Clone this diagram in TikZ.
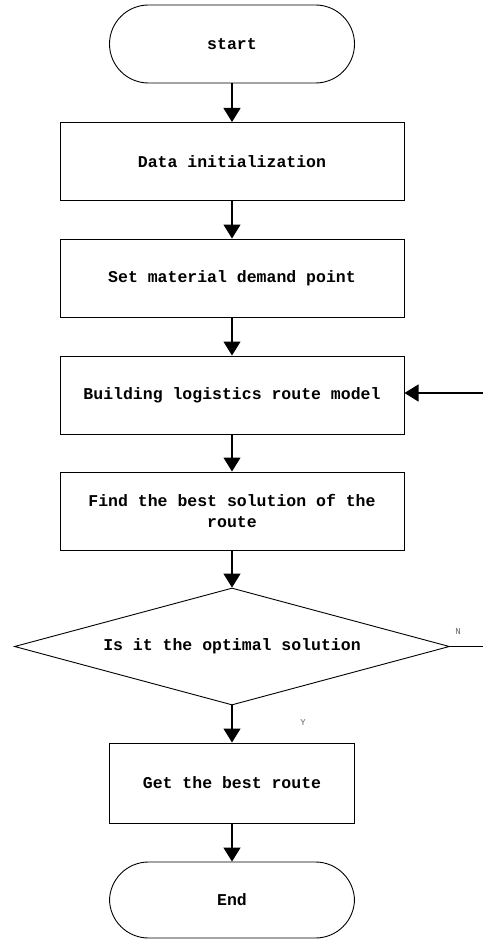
\documentclass[tikz,border=0pt]{standalone}
\usepackage{fontspec}
\setmonofont{Liberation Mono}
\usetikzlibrary{arrows.meta,shapes.geometric}

\begin{document}
\begin{tikzpicture}[x=1pt, y=-1pt,
        txt/.style={font=\ttfamily\bfseries\fontsize{16.5}{21}\selectfont},
        box/.style={txt, draw, line width=1pt, minimum width=344pt, minimum height=78pt, inner sep=0, align=center},
        term/.style={txt, draw, line width=0.9pt, rounded corners=39pt, minimum width=245pt, minimum height=78pt},
        decide/.style={txt, diamond, draw, line width=0.9pt, aspect=3.7, inner sep=0, minimum width=435pt, minimum height=117pt},
        lbl/.style={font=\ttfamily\fontsize{9}{9}\selectfont, text=black!60},
        flow/.style={line width=1.2pt, -{Triangle[width=17pt,length=14pt]}}]
    \useasboundingbox (0,0) rectangle (483,939);
    \node[term] (start) at (232,44) {start};
    \node[box] (init) at (232,161.5) {Data initialization};
    \node[box] (demand) at (232,278) {Set material demand point};
    \node[box] (model) at (232,395) {Building logistics route model};
    \node[box] (find) at (232,511) {Find the best solution of the\\route};
    \node[decide] (check) at (232,646.5) {Is it the optimal solution};
    \node[box, minimum width=245pt, minimum height=80pt] (best) at (232,783) {Get the best route};
    \node[term, minimum height=76pt] (stop) at (232,900) {End};
    \node[lbl] (no) at (458,632) {N};
    \node[lbl] (yes) at (303,723) {Y};
    \coordinate (back1) at (483,646.5);
    \coordinate (back2) at (483,393);
    \draw[flow] (start) -- (init);
    \draw[flow] (init) -- (demand);
    \draw[flow] (demand) -- (model);
    \draw[flow] (model) -- (find);
    \draw[flow] (find) -- (check);
    \draw[flow] (check) -- (best);
    \draw[flow] (best) -- (stop);
    \draw[line width=0.9pt] (check.east) -- (back1);
    \draw[flow] (back2) -- (model.east |- back2);
\end{tikzpicture}
\end{document}
